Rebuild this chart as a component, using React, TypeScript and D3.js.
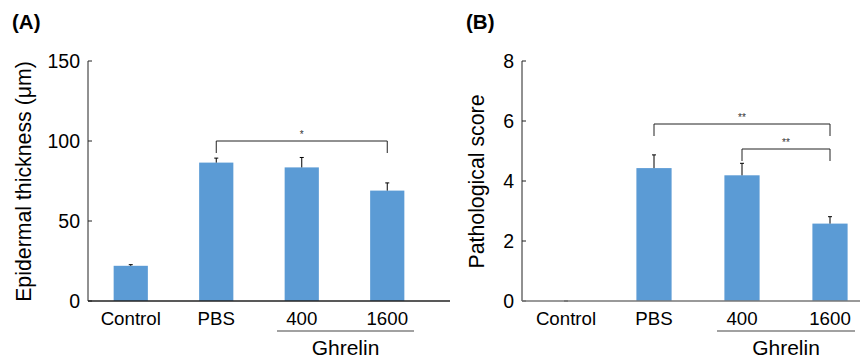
import React from "react";
import * as d3 from "d3";

const categories = ["Control", "PBS", "400", "1600"];
const thicknessMean = [22, 86.5, 83.5, 69];
const thicknessErr = [0.7, 2.8, 6.2, 4.8];
const scoreMean = [0, 4.43, 4.19, 2.58];
const scoreErr = [0, 0.44, 0.4, 0.23];
const ticksA = [0, 50, 100, 150];
const ticksB = [0, 2, 4, 6, 8];

const FONT = "'Liberation Sans', Arial, Helvetica, sans-serif";
const BAR = "#5B9BD5";

type PanelProps = {
  title: string;
  yLabel: string;
  values: number[];
  errs: number[];
  yMax: number;
  ticks: number[];
  x0: number;
  x1: number;
  axisColor: string;
  xAxisColor: string;
  yLabelX: number;
  titleX: number;
  brackets: { from: number; to: number; y: number; label: string }[];
  ghrelin: [number, number];
};

function Panel(p: PanelProps) {
  const yTop = 61;
  const yBot = 301;
  const x = d3.scaleBand<string>().domain(categories).range([p.x0, p.x1]).paddingInner(0.6).paddingOuter(0.3);
  const y = d3.scaleLinear().domain([0, p.yMax]).range([yBot, yTop]);
  const bw = x.bandwidth();
  const cx = (c: string) => (x(c) as number) + bw / 2;
  return (
    <g>
      <text x={p.titleX} y={29} fontFamily={FONT} fontWeight="bold" fontSize={20.5} fill="#000">{p.title}</text>
      <text transform={`translate(${p.yLabelX},181.5) rotate(-90)`} textAnchor="middle" fontFamily={FONT} fontSize={21.3} fill="#000">{p.yLabel}</text>
      {categories.map((c, i) => (
        <rect key={c} x={x(c)} y={y(p.values[i])} width={bw} height={yBot - y(p.values[i])} fill={BAR} />
      ))}
      {categories.map((c, i) => (
        <g key={"e" + c} stroke="#000" strokeWidth={1}>
          <line x1={cx(c)} x2={cx(c)} y1={y(p.values[i])} y2={y(p.values[i] + p.errs[i])} />
          <line x1={cx(c) - 2} x2={cx(c) + 2} y1={y(p.values[i] + p.errs[i])} y2={y(p.values[i] + p.errs[i])} />
        </g>
      ))}
      <line x1={p.x0} x2={p.x0} y1={yTop} y2={yBot} stroke={p.axisColor} strokeWidth={1} />
      {p.ticks.map((t) => (
        <g key={t}>
          <line x1={p.x0} x2={p.x0 + 4} y1={y(t)} y2={y(t)} stroke={p.axisColor} strokeWidth={1} />
          <text x={p.x0 - 8} y={y(t)} dy="0.36em" textAnchor="end" fontFamily={FONT} fontSize={19.5} fill="#000">{t}</text>
        </g>
      ))}
      <line x1={p.x0} x2={p.x1 + 20} y1={yBot} y2={yBot} stroke={p.xAxisColor} strokeWidth={1.3} />
      {categories.map((c) => (
        <text key={"l" + c} x={cx(c)} y={325} textAnchor="middle" fontFamily={FONT} fontSize={18.7} fill="#000">{c}</text>
      ))}
      <line x1={p.ghrelin[0]} x2={p.ghrelin[1]} y1={331} y2={331} stroke="#444" strokeWidth={1.2} />
      <text x={(p.ghrelin[0] + p.ghrelin[1]) / 2} y={355} textAnchor="middle" fontFamily={FONT} fontSize={21} fill="#000">Ghrelin</text>
      {p.brackets.map((b, i) => {
        const a = cx(categories[b.from]);
        const e = cx(categories[b.to]);
        return (
          <g key={"b" + i}>
            <path d={`M${a},${b.y + 12}V${b.y}H${e}V${b.y + 12}`} fill="none" stroke="#222" strokeWidth={1} />
            <text x={(a + e) / 2} y={b.y - 3} textAnchor="middle" fontFamily={FONT} fontSize={10} fill="#333">{b.label}</text>
          </g>
        );
      })}
    </g>
  );
}

export default function App() {
  return (
    <svg width={860} height={360} style={{ position: "absolute", left: 0, top: 0, background: "#fff" }}>
      <rect width={860} height={360} fill="#fff" />
      <Panel
        title="(A)"
        yLabel="Epidermal thickness (μm)"
        values={thicknessMean}
        errs={thicknessErr}
        yMax={150}
        ticks={ticksA}
        x0={88}
        x1={430}
        axisColor="#222"
        xAxisColor="#222"
        yLabelX={31}
        titleX={12}
        brackets={[{ from: 1, to: 3, y: 141, label: "*" }]}
        ghrelin={[277, 414]}
      />
      <Panel
        title="(B)"
        yLabel="Pathological score"
        values={scoreMean}
        errs={scoreErr}
        yMax={8}
        ticks={ticksB}
        x0={522}
        x1={874}
        axisColor="#222"
        xAxisColor="#777"
        yLabelX={484}
        titleX={466}
        brackets={[
          { from: 1, to: 3, y: 124, label: "**" },
          { from: 2, to: 3, y: 149, label: "**" },
        ]}
        ghrelin={[717, 855]}
      />
    </svg>
  );
}
